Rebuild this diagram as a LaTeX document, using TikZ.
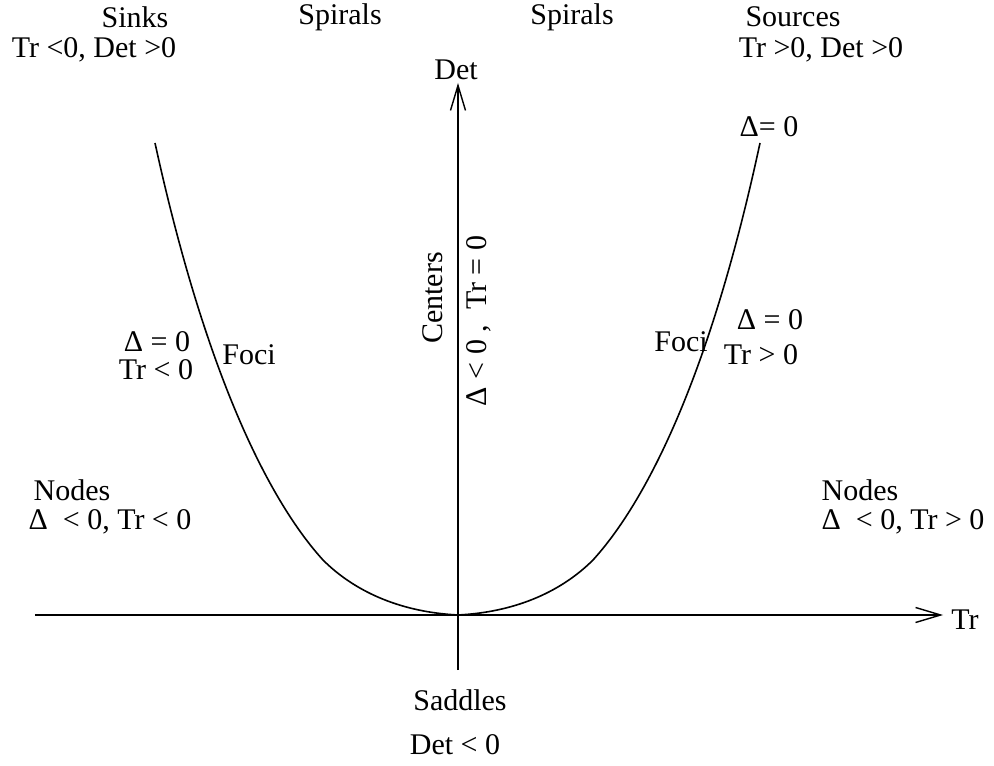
\documentclass[tikz,border=0pt]{standalone}
\usepackage{fontspec}
\setmainfont{Liberation Serif}
\usetikzlibrary{arrows.meta}

\begin{document}
\begin{tikzpicture}[x=0.5pt, y=0.5pt,
    >={Straight Barb[length=12.5pt, width=7.5pt, line width=0.7pt]},
    eje/.style={line width=0.75pt},
    curva/.style={line width=0.8pt},
    etiq/.style={inner sep=0pt, font=\fontsize{15pt}{17pt}\selectfont}]
    \useasboundingbox (-458,-150) rectangle (536,615);

    % Ejes
    \coordinate (trizq) at (-423,0);
    \coordinate (trfin) at (485,0);
    \coordinate (detabajo) at (0,-55);
    \coordinate (detfin) at (0,532);
    \draw[eje, ->] (trizq) -- (trfin);
    \draw[eje, ->] (detabajo) -- (detfin);
    \node[etiq] (tr) at (507,-5) {Tr};
    \node[etiq] (det) at (-2,545) {Det};

    % Parabola Delta = 0
    \draw[curva] (-303,472) .. controls (-250,230) and (-185,110) .. (-135,55)
        .. controls (-105,25) and (-60,3) .. (0,0)
        .. controls (60,3) and (105,25) .. (135,55)
        .. controls (185,110) and (250,230) .. (302,472);

    % Regiones de arriba
    \node[etiq] (sinks) at (-323,598) {Sinks};
    \node[etiq] (sinkscond) at (-364,565) {Tr <0, Det >0};
    \node[etiq] (spirizq) at (-118,598) {Spirals};
    \node[etiq] (spirder) at (114,598) {Spirals};
    \node[etiq] (sources) at (335,598) {Sources};
    \node[etiq] (sourcescond) at (363,565) {Tr >0, Det >0};
    \node[etiq] (deltasup) at (311,488) {Δ= 0};

    % Focos
    \node[etiq] (deltaizq) at (-301,273) {Δ = 0};
    \node[etiq] (trizqcond) at (-302,245) {Tr < 0};
    \node[etiq] (fociizq) at (-209,260) {Foci};
    \node[etiq] (focider) at (223,273) {Foci};
    \node[etiq] (deltader) at (312,295) {Δ = 0};
    \node[etiq] (trdercond) at (303,260) {Tr > 0};

    % Centros
    \node[etiq, rotate=90] (centers) at (-25,317) {Centers};
    \node[etiq, rotate=90] (centerscond) at (21,294) {Δ < 0\ ,\ \ Tr = 0};

    % Nodos
    \node[etiq] (nodesizq) at (-386,125) {Nodes};
    \node[etiq] (nodesizqcond) at (-348,93) {Δ\ \ < 0,\ Tr < 0};
    \node[etiq] (nodesder) at (402,125) {Nodes};
    \node[etiq] (nodesdercond) at (445,93) {Δ\ \ < 0,\ Tr > 0};

    % Sillas
    \node[etiq] (saddles) at (2,-85) {Saddles};
    \node[etiq] (saddlescond) at (-3,-130) {Det < 0};
\end{tikzpicture}
\end{document}
